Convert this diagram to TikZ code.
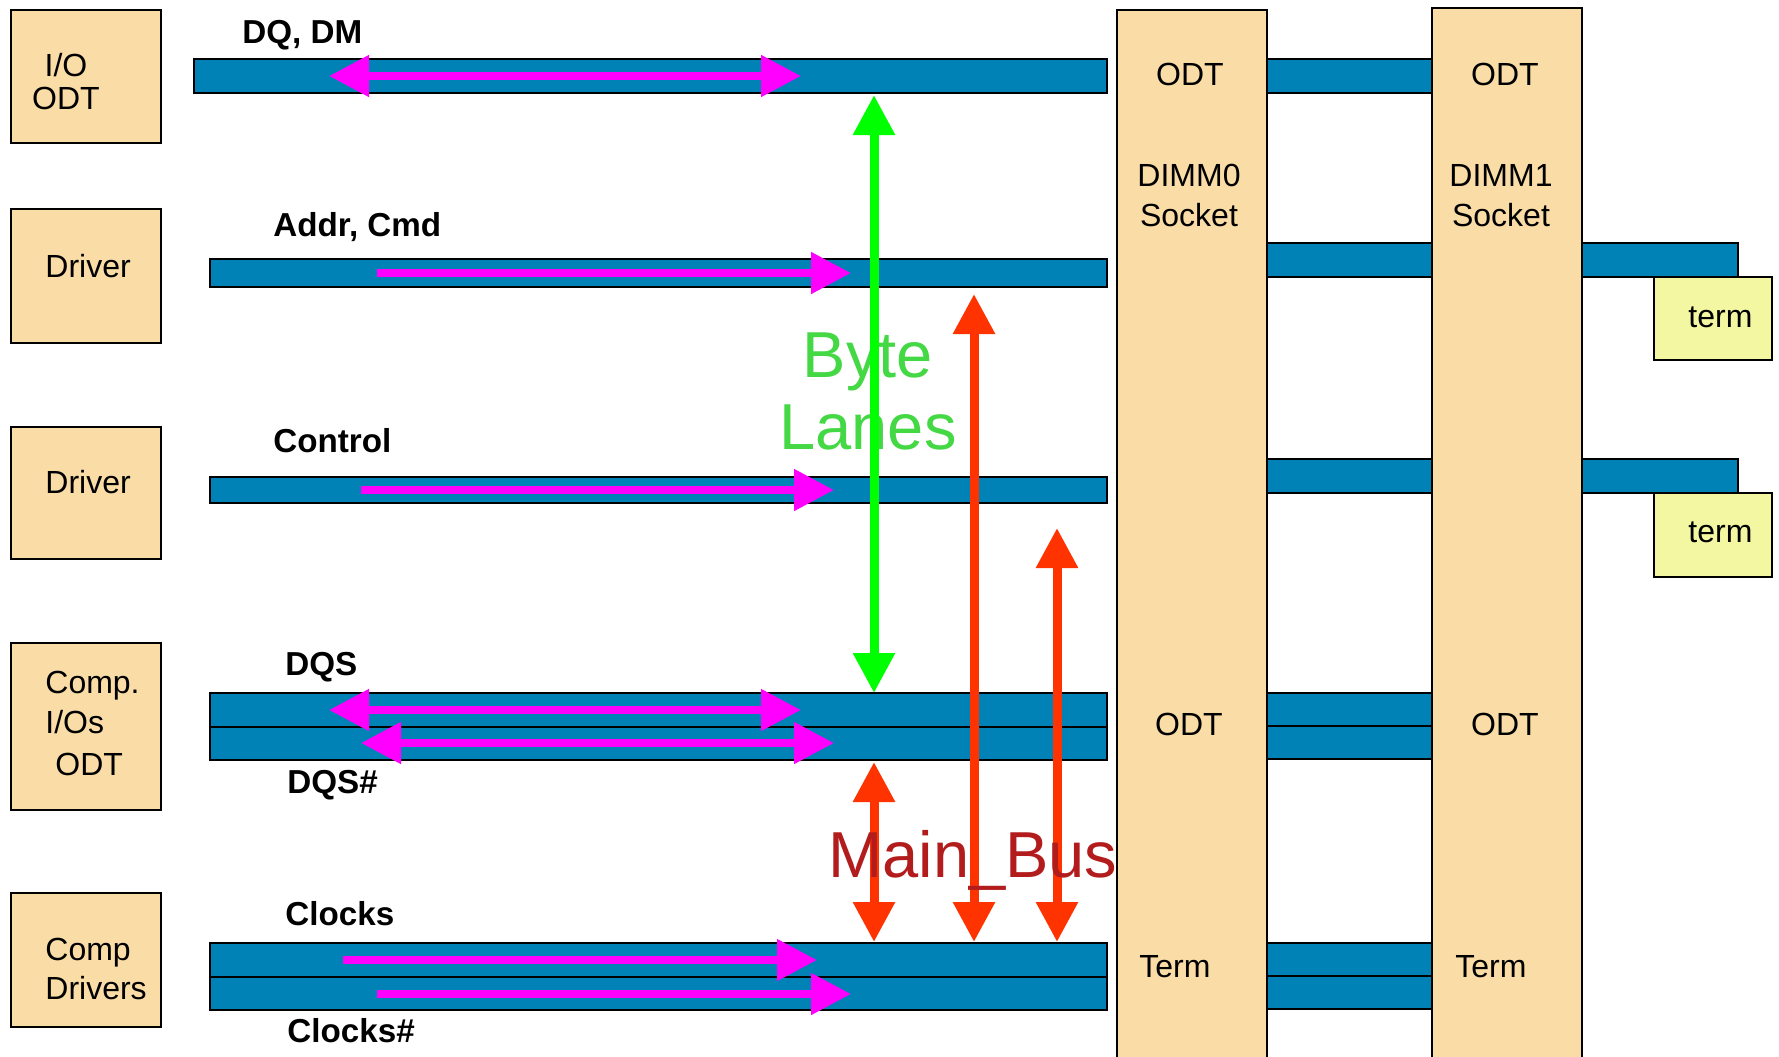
\documentclass[tikz,border=0pt]{standalone}
\usepackage{fontspec}
\setmainfont{Liberation Sans}
\usetikzlibrary{arrows.meta}
\definecolor{busblue}{RGB}{0,130,182}
\definecolor{peach}{RGB}{250,220,166}
\definecolor{termy}{RGB}{244,247,161}
\definecolor{mag}{RGB}{255,0,255}
\definecolor{grn}{RGB}{0,255,0}
\definecolor{grntxt}{RGB}{68,216,68}
\definecolor{redarr}{RGB}{255,51,0}
\definecolor{bustxt}{RGB}{178,28,28}
\begin{document}
\begin{tikzpicture}[x=0.5pt,y=-0.5pt,
  bar/.style={fill=busblue,draw=black,line width=1pt},
  box/.style={fill=peach,draw=black,line width=1pt},
  termbox/.style={fill=termy,draw=black,line width=1pt},
  lbl/.style={font=\fontsize{16.6}{19}\selectfont\bfseries,anchor=base west,inner sep=0pt},
  txt/.style={font=\fontsize{16}{19}\selectfont,anchor=base west,inner sep=0pt},
  ctxt/.style={font=\fontsize{16}{19}\selectfont,anchor=base,inner sep=0pt},
  bigtxt/.style={font=\fontsize{32.5}{39}\selectfont,anchor=base,inner sep=0pt},
  tipm/.tip={Triangle[length=20pt,width=20pt]},
  magone/.style={draw=mag,line width=4pt,-tipm},
  magtwo/.style={draw=mag,line width=4pt,tipm-tipm},
  grnarrow/.style={draw=grn,line width=4.5pt,tipm-tipm},
  redarrow/.style={draw=redarr,line width=4.5pt,tipm-tipm}]
\useasboundingbox (0,0) rectangle (1779,1056);
\fill[white] (0,0) rectangle (1779,1056);

% left boxes
\draw[box] (11,10) rectangle (161,143);
\draw[box] (11,209) rectangle (161,343);
\draw[box] (11,427) rectangle (161,559);
\draw[box] (11,643) rectangle (161,810);
\draw[box] (11,893) rectangle (161,1027);

% DIMM sockets
\fill[peach] (1117,10) rectangle (1267,1070);
\draw[line width=1pt] (1117,1070) -- (1117,10) -- (1267,10) -- (1267,1070);
\fill[peach] (1432,8) rectangle (1582,1070);
\draw[line width=1pt] (1432,1070) -- (1432,8) -- (1582,8) -- (1582,1070);

% left bars
\draw[bar] (194,59) rectangle (1107,93);
\draw[bar] (210,259) rectangle (1107,287);
\draw[bar] (210,477) rectangle (1107,503);
\draw[bar] (210,693) rectangle (1107,760);
\draw[line width=1pt] (210,727) -- (1107,727);
\draw[bar] (210,943) rectangle (1107,1010);
\draw[line width=1pt] (210,977) -- (1107,977);

% bars between and right of the sockets
\draw[bar] (1267,59) rectangle (1432,93);
\draw[bar] (1267,243) rectangle (1432,277);
\draw[bar] (1582,243) rectangle (1738,277);
\draw[bar] (1267,459) rectangle (1432,493);
\draw[bar] (1582,459) rectangle (1738,493);
\draw[bar] (1267,693) rectangle (1432,759);
\draw[line width=1pt] (1267,726) -- (1432,726);
\draw[bar] (1267,943) rectangle (1432,1009);
\draw[line width=1pt] (1267,976) -- (1432,976);

% term boxes
\draw[termbox] (1654,277) rectangle (1772,360);
\draw[termbox] (1654,493) rectangle (1772,577);

% magenta arrows
\coordinate (dqa) at (329,76);   \coordinate (dqb) at (801,76);
\coordinate (ada) at (377,273);  \coordinate (adb) at (851,273);
\coordinate (cta) at (361,490);  \coordinate (ctb) at (834,490);
\coordinate (dsa) at (329,710);  \coordinate (dsb) at (801,710);
\coordinate (dna) at (361,743);  \coordinate (dnb) at (834,743);
\coordinate (cka) at (343,960);  \coordinate (ckb) at (817,960);
\coordinate (cna) at (377,994);  \coordinate (cnb) at (851,994);
\draw[magtwo] (dqa) -- (dqb);
\draw[magone] (ada) -- (adb);
\draw[magone] (cta) -- (ctb);
\draw[magtwo] (dsa) -- (dsb);
\draw[magtwo] (dna) -- (dnb);
\draw[magone] (cka) -- (ckb);
\draw[magone] (cna) -- (cnb);

% Byte Lanes
\node[bigtxt,text=grntxt] (byte) at (868,377) {Byte};
\node[bigtxt,text=grntxt] (lanes) at (868,449) {Lanes};
\coordinate (ga) at (874,95); \coordinate (gb) at (874,693);
\draw[grnarrow] (ga) -- (gb);

% red arrows
\coordinate (ra1) at (874,762);  \coordinate (rb1) at (874,942);
\coordinate (ra2) at (974,294);  \coordinate (rb2) at (974,942);
\coordinate (ra3) at (1057,528); \coordinate (rb3) at (1057,942);
\draw[redarrow] (ra1) -- (rb1);
\draw[redarrow] (ra2) -- (rb2);
\draw[redarrow] (ra3) -- (rb3);
\node[bigtxt,text=bustxt,anchor=base west] (mainbus) at (828,877) {Main\_Bus};

% bus labels
\node[lbl] (ldq) at (242,43) {DQ, DM};
\node[lbl] (lad) at (273,236) {Addr, Cmd};
\node[lbl] (lct) at (273,452) {Control};
\node[lbl] (lds) at (285,675) {DQS};
\node[lbl] (ldn) at (287,793) {DQS\#};
\node[lbl] (lck) at (285,925) {Clocks};
\node[lbl] (lcn) at (287,1042) {Clocks\#};

% left box texts
\node[ctxt] (io1) at (66,76) {I/O};
\node[ctxt] (io2) at (66,109) {ODT};
\node[txt] (drv1) at (45,277) {Driver};
\node[txt] (drv2) at (45,493) {Driver};
\node[txt] (cmp1) at (45,693) {Comp.};
\node[txt] (cmp2) at (45,733) {I/Os};
\node[txt] (cmp3) at (55,775) {ODT};
\node[txt] (cd1) at (45,960) {Comp};
\node[txt] (cd2) at (45,999) {Drivers};

% socket texts
\node[ctxt] (d0odt) at (1190,85) {ODT};
\node[ctxt] (d0n) at (1189,186) {DIMM0};
\node[ctxt] (d0s) at (1189,226) {Socket};
\node[ctxt] (d0odt2) at (1189,735) {ODT};
\node[txt] (d0term) at (1139,977) {Term};
\node[ctxt] (d1odt) at (1505,85) {ODT};
\node[ctxt] (d1n) at (1501,186) {DIMM1};
\node[ctxt] (d1s) at (1501,226) {Socket};
\node[ctxt] (d1odt2) at (1505,735) {ODT};
\node[txt] (d1term) at (1455,977) {Term};

% term texts
\node[txt] (t1) at (1688,327) {term};
\node[txt] (t2) at (1688,542) {term};
\end{tikzpicture}
\end{document}
